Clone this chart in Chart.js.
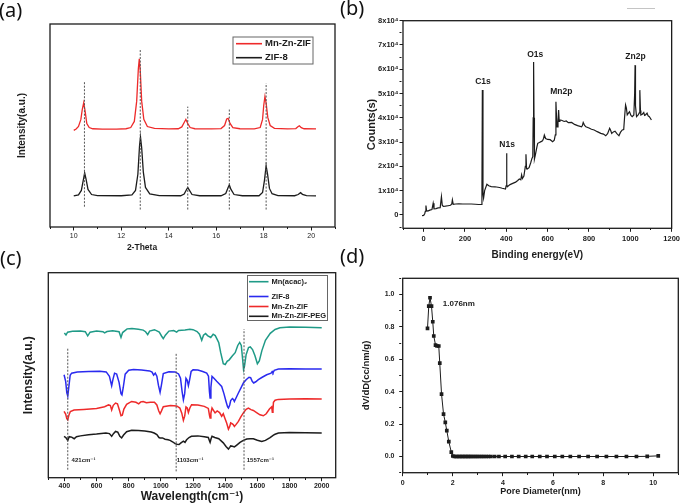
<!DOCTYPE html>
<html>
<head>
<meta charset="utf-8">
<script src="https://cdn.jsdelivr.net/npm/chart.js@4.4.1/dist/chart.umd.min.js"></script>
<style>
  body { margin: 0; background: #fff; width: 683px; height: 503px; overflow: hidden; position: relative; }
  canvas { position: absolute; }
  .tag { position: absolute; font-family: "Noto Sans", sans-serif; font-size: 20px; line-height: 20px; color: #111; }
  .stray { position: absolute; left: 627px; top: 8px; width: 28px; height: 1px; background: #c4c4c4; }
</style>
</head>
<body>
<canvas id="xrd" width="341" height="262" style="left:0;top:0"></canvas>
<canvas id="xps" width="342" height="262" style="left:341px;top:0"></canvas>
<canvas id="ftir" width="341" height="254" style="left:0;top:250px"></canvas>
<canvas id="pore" width="342" height="254" style="left:341px;top:250px"></canvas>
<div class="tag" style="left:-1px;top:0">(a)</div>
<div class="tag" style="left:340px;top:-2px">(b)</div>
<div class="tag" style="left:0;top:248px">(c)</div>
<div class="tag" style="left:340px;top:246px">(d)</div>
<div class="stray"></div>
<script>
// ---- (a) XRD, intensity in arbitrary units ----
const xrdMnZnZif = [[10.0,47.6],[10.1,48.3],[10.2,49.5],[10.3,53],[10.36,58],[10.42,61.2],[10.48,57],[10.55,51],[10.65,49],[10.8,48.4],[11.2,48.2],[11.8,48.2],[12.2,48.4],[12.4,49],[12.55,52],[12.65,62],[12.72,78],[12.76,82.8],[12.8,77],[12.86,62],[12.95,53],[13.1,49.5],[13.4,48.6],[14.0,48.3],[14.4,48.4],[14.55,49.3],[14.65,51.5],[14.72,53],[14.8,51],[14.9,49],[15.1,48.4],[15.8,48.3],[16.2,48.5],[16.35,50],[16.44,53.2],[16.5,53.5],[16.58,51],[16.7,48.9],[17.0,48.4],[17.6,48.3],[17.85,49],[17.95,53],[18.0,60],[18.05,64.2],[18.1,61],[18.17,54],[18.27,50],[18.45,48.6],[19.0,48.3],[19.35,48.5],[19.45,49.5],[19.5,49.8],[19.58,48.9],[19.7,48.4],[20.2,48.3]];
const xrdZif8 = [[10.0,15.3],[10.2,15.8],[10.32,18],[10.4,23],[10.46,26.6],[10.52,23.5],[10.6,18.5],[10.75,16],[11.0,15.5],[12.0,15.4],[12.45,15.8],[12.6,18],[12.7,26],[12.77,40],[12.81,44.3],[12.86,39],[12.93,27],[13.02,19.5],[13.2,16.3],[13.6,15.5],[14.5,15.4],[14.65,16.2],[14.75,18.5],[14.8,19.5],[14.86,18.3],[14.98,16],[15.3,15.4],[16.2,15.4],[16.4,16.5],[16.5,19.5],[16.55,20.7],[16.62,18.5],[16.75,16],[17.1,15.4],[17.8,15.4],[17.95,17],[18.03,23],[18.1,30.1],[18.16,26],[18.24,19],[18.35,16.4],[18.6,15.5],[19.3,15.4],[19.45,16],[19.55,16.9],[19.63,16.1],[19.8,15.5],[20.2,15.3]];
const xrdRefX = [10.45, 12.8, 14.8, 16.55, 18.1];
const xrdRefTop = [71.6, 87.2, 59.3, 58, 70.8];
const xrdRefBottom = [10, 8.6, 8.6, 8.6, 8.6];
const xrdTickLabels = [10, 12, 14, 16, 18, 20];

// ---- (b) XPS survey ----
const xpsCounts = [[-8,-300],[0,-200],[5,500],[8,1500],[11,3900],[14,1800],[20,1600],[30,2000],[40,2200],[46,4800],[50,2500],[60,2600],[70,2900],[80,3000],[86,7500],[90,4000],[95,3500],[105,3600],[118,3800],[130,4000],[136,4500],[139,6200],[143,4400],[155,4500],[170,4600],[190,4500],[210,4500],[230,4500],[250,4400],[265,4300],[279,4300],[282,10000],[284,51500],[287,9000],[290,7000],[295,10000],[306,12600],[315,12000],[327,11700],[345,11600],[367,11300],[380,11000],[396,10700],[399,12000],[401,25400],[403,12500],[405,11600],[418,12500],[431,13000],[445,13500],[455,14200],[463,14800],[470,14500],[474,16500],[478,15000],[485,16000],[492,20000],[495,25000],[498,19000],[501,18900],[510,19500],[518,21500],[524,23300],[528,24000],[530,40000],[532,63000],[534,40000],[536,23000],[540,24500],[548,28000],[552,29500],[560,29800],[568,30200],[575,30500],[580,31500],[584,32900],[590,31500],[600,31100],[612,31000],[624,30200],[632,30800],[637,33000],[640,46600],[643,40000],[646,36300],[650,38000],[653,43200],[656,38500],[659,39100],[667,39000],[680,38500],[690,38700],[700,38000],[716,38100],[730,37300],[745,36800],[764,36300],[768,36800],[772,38100],[778,37000],[785,36300],[800,35800],[812,35300],[825,35000],[840,34300],[857,33600],[870,33300],[881,32600],[890,33500],[900,35700],[905,34800],[910,33600],[918,34200],[926,34500],[935,33500],[945,32600],[952,34000],[961,35000],[968,35200],[972,40000],[977,45300],[981,44000],[985,41200],[990,41800],[996,42500],[1003,41000],[1009,40500],[1017,41200],[1021,50000],[1023,61700],[1025,45000],[1030,40500],[1038,41200],[1043,42000],[1046,51400],[1049,43000],[1051,41200],[1058,41500],[1065,42200],[1069,41000],[1073,41200],[1081,41900],[1086,40800],[1092,40500],[1097,39800],[1102,39100]];
const xpsPeakNames = ['C1s', 'N1s', 'O1s', 'Mn2p', 'Zn2p'];
const xpsPeakX = [287, 404, 540, 666, 1025];
const xpsPeakY = [54900, 28800, 66100, 50700, 65100];
const xpsXTickLabels = [0, 200, 400, 600, 800, 1000, 1200];
const xpsYTicks = [0, 10000, 20000, 30000, 40000, 50000, 60000, 70000, 80000];
const xpsYTickLabels = ['0', '1x10⁴', '2x10⁴', '3x10⁴', '4x10⁴', '5x10⁴', '6x10⁴', '7x10⁴', '8x10⁴'];

// ---- (c) FTIR, arbitrary units ----
const ftirMnAcac = [[400,70.6],[410,69.6],[420,71.0],[450,71.4],[500,71.5],[530,71.2],[545,69.2],[560,71.0],[600,71.5],[640,71.2],[650,70.6],[665,71.3],[700,71.7],[740,71.2],[752,68.4],[762,70.8],[790,72.6],[820,72.8],[860,72.4],[890,72.0],[905,71.2],[918,69.8],[930,71.5],[960,72.2],[990,71.0],[1005,69.0],[1015,67.8],[1028,69.5],[1050,71.5],[1080,71.8],[1098,71.0],[1110,71.8],[1150,72.0],[1180,72.4],[1200,72.2],[1225,71.3],[1240,70.0],[1254,67.0],[1265,69.5],[1278,70.3],[1290,69.3],[1310,68.4],[1325,70.0],[1338,69.3],[1350,67.5],[1360,65.8],[1372,61.0],[1388,55.6],[1400,55.2],[1412,56.8],[1425,57.5],[1445,59.5],[1462,61.0],[1478,64.5],[1490,66.0],[1500,64.5],[1508,58.0],[1514,52.8],[1520,54.5],[1530,60.0],[1545,63.5],[1556,63.8],[1570,62.5],[1585,59.5],[1600,55.6],[1612,57.0],[1628,62.0],[1650,67.0],[1680,70.4],[1710,72.3],[1740,73.1],[1800,73.5],[1900,73.4],[2000,73.2]];
const ftirZif8 = [[398,50.2],[408,47.0],[415,41.5],[421,39.8],[428,44.5],[436,50.0],[445,51.0],[480,51.6],[550,51.8],[620,51.9],[660,51.6],[680,49.5],[694,44.9],[702,48.0],[712,51.0],[725,50.6],[740,46.5],[752,41.0],[758,40.4],[766,44.0],[778,50.5],[800,52.4],[830,52.8],[880,52.5],[930,52.1],[945,51.5],[955,50.0],[965,51.0],[975,49.5],[985,45.0],[995,41.6],[1003,45.0],[1015,50.8],[1050,51.7],[1088,51.6],[1110,50.6],[1122,48.5],[1132,42.0],[1140,38.0],[1148,41.0],[1156,48.5],[1164,47.5],[1171,44.9],[1178,47.5],[1188,51.8],[1200,52.6],[1230,52.5],[1260,51.8],[1285,51.0],[1296,49.5],[1302,42.0],[1306,38.9],[1311,44.0],[1318,49.4],[1330,48.5],[1347,47.0],[1365,45.6],[1378,44.5],[1392,41.0],[1405,37.2],[1415,34.5],[1420,34.0],[1428,35.5],[1434,37.6],[1445,38.6],[1451,38.2],[1457,37.2],[1465,38.5],[1482,41.3],[1498,43.8],[1513,46.2],[1530,47.8],[1548,49.0],[1558,48.8],[1568,47.0],[1577,46.2],[1590,46.8],[1606,47.8],[1630,49.0],[1658,50.2],[1685,51.0],[1692,51.8],[1697,51.2],[1705,52.4],[1731,53.0],[1800,53.1],[1900,53.0],[2000,53.0]];
const ftirMnZnZif = [[398,32.3],[408,31.0],[415,28.8],[421,28.2],[428,30.5],[437,32.3],[460,33.0],[520,33.3],[600,33.8],[650,34.6],[675,35.5],[686,35.2],[694,33.0],[704,35.3],[718,36.4],[730,36.0],[742,33.0],[752,30.2],[760,30.5],[770,33.5],[787,35.8],[818,37.2],[845,36.8],[862,36.0],[875,37.0],[890,37.2],[910,36.6],[935,36.8],[960,36.8],[975,35.5],[987,32.5],[995,31.2],[1003,32.5],[1015,34.6],[1060,35.2],[1098,35.0],[1118,34.0],[1130,31.5],[1140,28.0],[1148,30.0],[1156,34.5],[1164,34.0],[1171,31.8],[1180,34.0],[1191,35.6],[1230,35.5],[1270,34.8],[1295,33.8],[1302,30.5],[1306,29.1],[1311,31.5],[1318,34.0],[1330,32.5],[1337,31.6],[1350,32.6],[1365,31.8],[1378,30.0],[1388,31.2],[1398,29.0],[1409,26.7],[1420,23.7],[1428,25.0],[1434,26.7],[1445,26.2],[1451,25.8],[1457,25.0],[1468,26.0],[1482,27.5],[1498,29.8],[1513,31.6],[1530,33.4],[1544,34.0],[1560,33.2],[1575,32.8],[1595,31.8],[1616,30.7],[1637,30.2],[1655,31.2],[1675,33.5],[1689,34.6],[1693,31.9],[1697,33.0],[1700,36.8],[1710,37.8],[1730,38.2],[1800,38.4],[1900,38.5],[2000,38.4]];
const ftirPeg = [[398,20.2],[410,19.5],[421,18.2],[430,20.0],[445,19.8],[461,19.0],[475,20.0],[500,20.4],[550,21.0],[600,21.3],[658,21.8],[680,21.5],[694,20.2],[705,21.5],[718,22.6],[732,22.2],[745,20.2],[756,19.4],[768,20.8],[787,22.4],[818,23.1],[860,23.0],[900,22.8],[940,22.3],[958,21.8],[975,21.0],[988,19.6],[995,19.4],[1010,19.4],[1026,18.8],[1045,18.5],[1057,18.2],[1075,17.4],[1088,16.6],[1100,16.3],[1113,16.2],[1125,17.0],[1140,17.8],[1150,17.2],[1160,18.5],[1175,19.6],[1190,20.2],[1230,20.4],[1270,20.0],[1295,19.6],[1302,18.0],[1306,17.2],[1312,19.0],[1318,20.2],[1335,19.6],[1360,19.0],[1388,17.0],[1405,15.2],[1420,14.0],[1428,14.8],[1434,15.5],[1445,15.3],[1457,15.0],[1470,15.8],[1492,17.2],[1513,18.2],[1534,18.9],[1555,19.0],[1575,19.0],[1600,18.3],[1627,17.7],[1650,18.2],[1679,19.6],[1700,20.8],[1710,21.2],[1731,21.8],[1800,22.0],[1900,21.9],[2000,21.8]];
const ftirRefX = [421, 1095, 1517];
const ftirRefTop = [63.3, 60.8, 72.5];
const ftirRefBottom = [3.9, 3.1, 3.9];
const ftirRefNames = ['421cm⁻¹', '1103cm⁻¹', '1557cm⁻¹'];
const ftirRefNameX = [445, 1098, 1534];
const ftirTickLabels = [400, 600, 800, 1000, 1200, 1400, 1600, 1800, 2000];

// ---- (d) pore size distribution ----
const poreDiameter = [0.99,1.04,1.09,1.15,1.2,1.24,1.31,1.37,1.44,1.48,1.55,1.63,1.7,1.76,1.84,1.94,2.0,2.06,2.12,2.18,2.24,2.3,2.36,2.42,2.48,2.54,2.6,2.66,2.72,2.79,2.86,2.93,3.0,3.08,3.16,3.24,3.33,3.42,3.52,3.67,3.84,4.09,4.36,4.63,4.91,5.17,5.47,5.76,6.07,6.37,6.69,7.04,7.4,7.76,8.13,8.53,8.93,9.33,9.76,10.2];
const poreVolume = [0.791,0.928,0.98,0.928,0.832,0.744,0.688,0.682,0.682,0.576,0.385,0.262,0.211,0.16,0.092,0.027,0.003,0,0,0,0,0,0,0,0,0,0,0,0,0,0,0,0,0,0,0,0,0,0,0,0,0,0,0,0,0,0,0,0,0,0,0,0,0,0,0,0,0,0.001,0.004];
const poreXTickLabels = [0, 2, 4, 6, 8, 10];
const poreYTickLabels = [0, 0.2, 0.4, 0.6, 0.8, 1.0];

const ink = '#1c1c1c', red = '#ee2a2a', teal = '#1f9a87', blue = '#2a2aef';
const family = "'Liberation Sans', 'DejaVu Sans', sans-serif";
Chart.defaults.font.family = family;
Chart.defaults.color = ink;
Chart.defaults.animation = false;
Chart.defaults.events = [];
Chart.defaults.plugins.legend.display = false;
Chart.defaults.plugins.tooltip.enabled = false;

const pts = a => a.map(p => ({ x: p[0], y: p[1] }));
const f = (size, weight) => ({ family: family, size: size, weight: weight || 'bold' });

function curve(data, color, width) {
  return { data: pts(data), borderColor: color, borderWidth: width || 1.2, pointRadius: 0, tension: 0 };
}
function refLine(x, top, bottom) {
  return { data: [{ x: x, y: bottom }, { x: x, y: top }], borderColor: '#555', borderWidth: 1,
    borderDash: [2, 1.5], pointRadius: 0 };
}

// frame around plot, free text and the inset legend
function decor(cfg) {
  return {
    id: 'decor',
    afterDatasetsDraw(chart) {
      const ctx = chart.ctx, a = chart.chartArea, xs = chart.scales.x, ys = chart.scales.y;
      ctx.save();
      ctx.strokeStyle = ink;
      ctx.lineWidth = 1.3;
      ctx.strokeRect(a.left, a.top, a.right - a.left, a.bottom - a.top);
      (cfg.notes || []).forEach(n => {
        ctx.font = n.font;
        ctx.fillStyle = ink;
        ctx.textAlign = n.align || 'center';
        ctx.textBaseline = 'middle';
        const px = n.px !== undefined ? n.px : xs.getPixelForValue(n.x);
        const py = n.py !== undefined ? n.py : ys.getPixelForValue(n.y);
        ctx.fillText(n.text, px, py);
      });
      const L = cfg.legend;
      if (L) {
        ctx.lineWidth = 1;
        ctx.strokeStyle = '#666';
        ctx.strokeRect(L.x, L.y, L.w, L.h);
        ctx.font = L.font;
        ctx.textAlign = 'left';
        ctx.textBaseline = 'middle';
        L.rows.forEach(r => {
          ctx.strokeStyle = r.color;
          ctx.lineWidth = 1.6;
          ctx.beginPath();
          ctx.moveTo(L.x + L.line[0], r.y);
          ctx.lineTo(L.x + L.line[1], r.y);
          ctx.stroke();
          ctx.fillStyle = ink;
          ctx.fillText(r.text, L.x + L.textX, r.y);
        });
      }
      ctx.restore();
    }
  };
}

// axis with ticks every `step`, labels only where `label(v)` gives text, short marks elsewhere
function axis(o) {
  const hasTicks = o.step !== undefined;
  return {
    type: 'linear', min: o.min, max: o.max,
    afterBuildTicks: s => {
      if (!hasTicks) return;
      const t = [];
      for (let k = Math.ceil(o.min / o.step - 1e-9); k * o.step <= o.max + 1e-9; k++) t.push({ value: +(k * o.step).toFixed(6) });
      s.ticks = t;
    },
    afterFit: s => { if (o.width !== undefined) s.width = o.width; if (o.height !== undefined) s.height = o.height; },
    border: { display: false },
    grid: {
      display: hasTicks, drawOnChartArea: false, tickLength: 3.5, tickColor: ink, tickWidth: 1,
      tickBorderDash: c => (hasTicks && c.tick && o.label(c.tick.value) === '') ? [2, 40] : []
    },
    ticks: !hasTicks ? { display: false } : {
      autoSkip: false, maxRotation: 0, padding: o.pad, font: o.font, color: ink,
      callback: v => o.label(v)
    },
    title: o.title ? { display: true, text: o.title, font: o.titleFont, color: ink, padding: o.titlePad } : { display: false }
  };
}

// (a)
new Chart(document.getElementById('xrd'), {
  type: 'line',
  data: { datasets: xrdRefX.map((x, i) => refLine(x, xrdRefTop[i], xrdRefBottom[i])).concat([
    curve(xrdMnZnZif, red, 1.3), curve(xrdZif8, ink, 1.3)]) },
  options: {
    responsive: false,
    layout: { padding: { left: 0, top: 24, right: 6, bottom: 0 } },
    scales: {
      x: axis({ min: 9, max: 21, step: 1, height: 35, pad: 1, font: f(7, 'normal'),
        label: v => xrdTickLabels.includes(v) ? String(v) : '' }),
      y: axis({ min: 0, max: 100, width: 50, title: 'Intensity(a.u.)', titleFont: f(10),
        titlePad: { top: 16, bottom: 0 } })
    }
  },
  plugins: [decor({
    notes: [{ text: '2-Theta', px: 142, py: 248, font: 'bold 8.5px ' + family }],
    legend: { x: 233, y: 37, w: 80, h: 27, line: [3, 29], textX: 32, font: 'bold 9.5px ' + family,
      rows: [{ text: 'Mn-Zn-ZIF', color: red, y: 43.7 }, { text: 'ZIF-8', color: ink, y: 57.7 }] }
  })]
});

// (b)
new Chart(document.getElementById('xps'), {
  type: 'line',
  data: { datasets: [curve(xpsCounts, ink, 1.2)] },
  options: {
    responsive: false,
    layout: { padding: { left: 0, top: 20.7, right: 9.7, bottom: 0 } },
    scales: {
      x: axis({ min: -100, max: 1200, step: 100, height: 33.7, pad: 3, font: f(7.5),
        label: v => xpsXTickLabels.includes(v) ? String(v) : '',
        title: 'Binding energy(eV)', titleFont: f(10), titlePad: { top: 0, bottom: 1 } }),
      y: axis({ min: -5500, max: 80000, step: 5000, width: 62, pad: 1, font: f(7.5),
        label: v => { const i = xpsYTicks.indexOf(v); return i < 0 ? '' : xpsYTickLabels[i]; },
        title: 'Counts(s)', titleFont: f(11), titlePad: { top: 24, bottom: 0 } })
    }
  },
  plugins: [decor({
    notes: xpsPeakNames.map((t, i) => ({ text: t, x: xpsPeakX[i], y: xpsPeakY[i], font: 'bold 8.5px ' + family }))
  })]
});

// (c)
new Chart(document.getElementById('ftir'), {
  type: 'line',
  data: { datasets: ftirRefX.map((x, i) => refLine(x, ftirRefTop[i], ftirRefBottom[i])).concat([
    curve(ftirMnAcac, teal, 1.5), curve(ftirZif8, blue, 1.5), curve(ftirMnZnZif, red, 1.5), curve(ftirPeg, ink, 1.5)]) },
  options: {
    responsive: false,
    layout: { padding: { left: 0, top: 22.7, right: 5.3, bottom: 0 } },
    scales: {
      x: axis({ min: 300, max: 2087, step: 100, height: 26.3, pad: 1, font: f(7),
        label: v => ftirTickLabels.includes(v) ? String(v) : '',
        title: 'Wavelength(cm⁻¹)', titleFont: f(12), titlePad: { top: 0, bottom: 0 } }),
      y: axis({ min: 0, max: 100, width: 48.3, title: 'Intensity(a.u.)', titleFont: f(12),
        titlePad: { top: 21, bottom: 0 } })
    }
  },
  plugins: [decor({
    notes: ftirRefNames.map((t, i) => ({ text: t, x: ftirRefNameX[i], y: 8.4, align: 'left', font: 'bold 6px ' + family })),
    legend: { x: 247.5, y: 25.5, w: 80, h: 45, line: [1.5, 21], textX: 24, font: 'bold 7.5px ' + family,
      rows: [{ text: 'Mn(acac)₂', color: teal, y: 31.7 }, { text: 'ZIF-8', color: blue, y: 46.5 },
        { text: 'Mn-Zn-ZIF', color: red, y: 56.5 }, { text: 'Mn-Zn-ZIF-PEG', color: ink, y: 66.3 }] }
  })]
});

// (d)
new Chart(document.getElementById('pore'), {
  type: 'line',
  data: { datasets: [{ data: poreDiameter.map((d, i) => ({ x: d, y: poreVolume[i] })), borderColor: ink,
    borderWidth: 1, pointStyle: 'rect', pointRadius: 2.6, pointBackgroundColor: ink, pointBorderWidth: 0 }] },
  options: {
    responsive: false,
    layout: { padding: { left: 0, top: 28.3, right: 4.7, bottom: 0 } },
    scales: {
      x: axis({ min: 0, max: 11, step: 1, height: 31.3, pad: 3, font: f(7),
        label: v => poreXTickLabels.includes(v) ? String(v) : '',
        title: 'Pore Diameter(nm)', titleFont: f(9), titlePad: { top: 0, bottom: 6.9 } }),
      y: axis({ min: -0.1, max: 1.1, step: 0.1, width: 61.7, pad: 4.7, font: f(7),
        label: v => poreYTickLabels.some(t => Math.abs(t - v) < 1e-6) ? v.toFixed(1) : '',
        title: 'dV/dD(cc/nm/g)', titleFont: f(9.5), titlePad: { top: 20, bottom: 0 } })
    }
  },
  plugins: [decor({
    notes: [{ text: '1.076nm', x: 2.24, y: 0.94, font: 'bold 8px ' + family }]
  })]
});
</script>
</body>
</html>
